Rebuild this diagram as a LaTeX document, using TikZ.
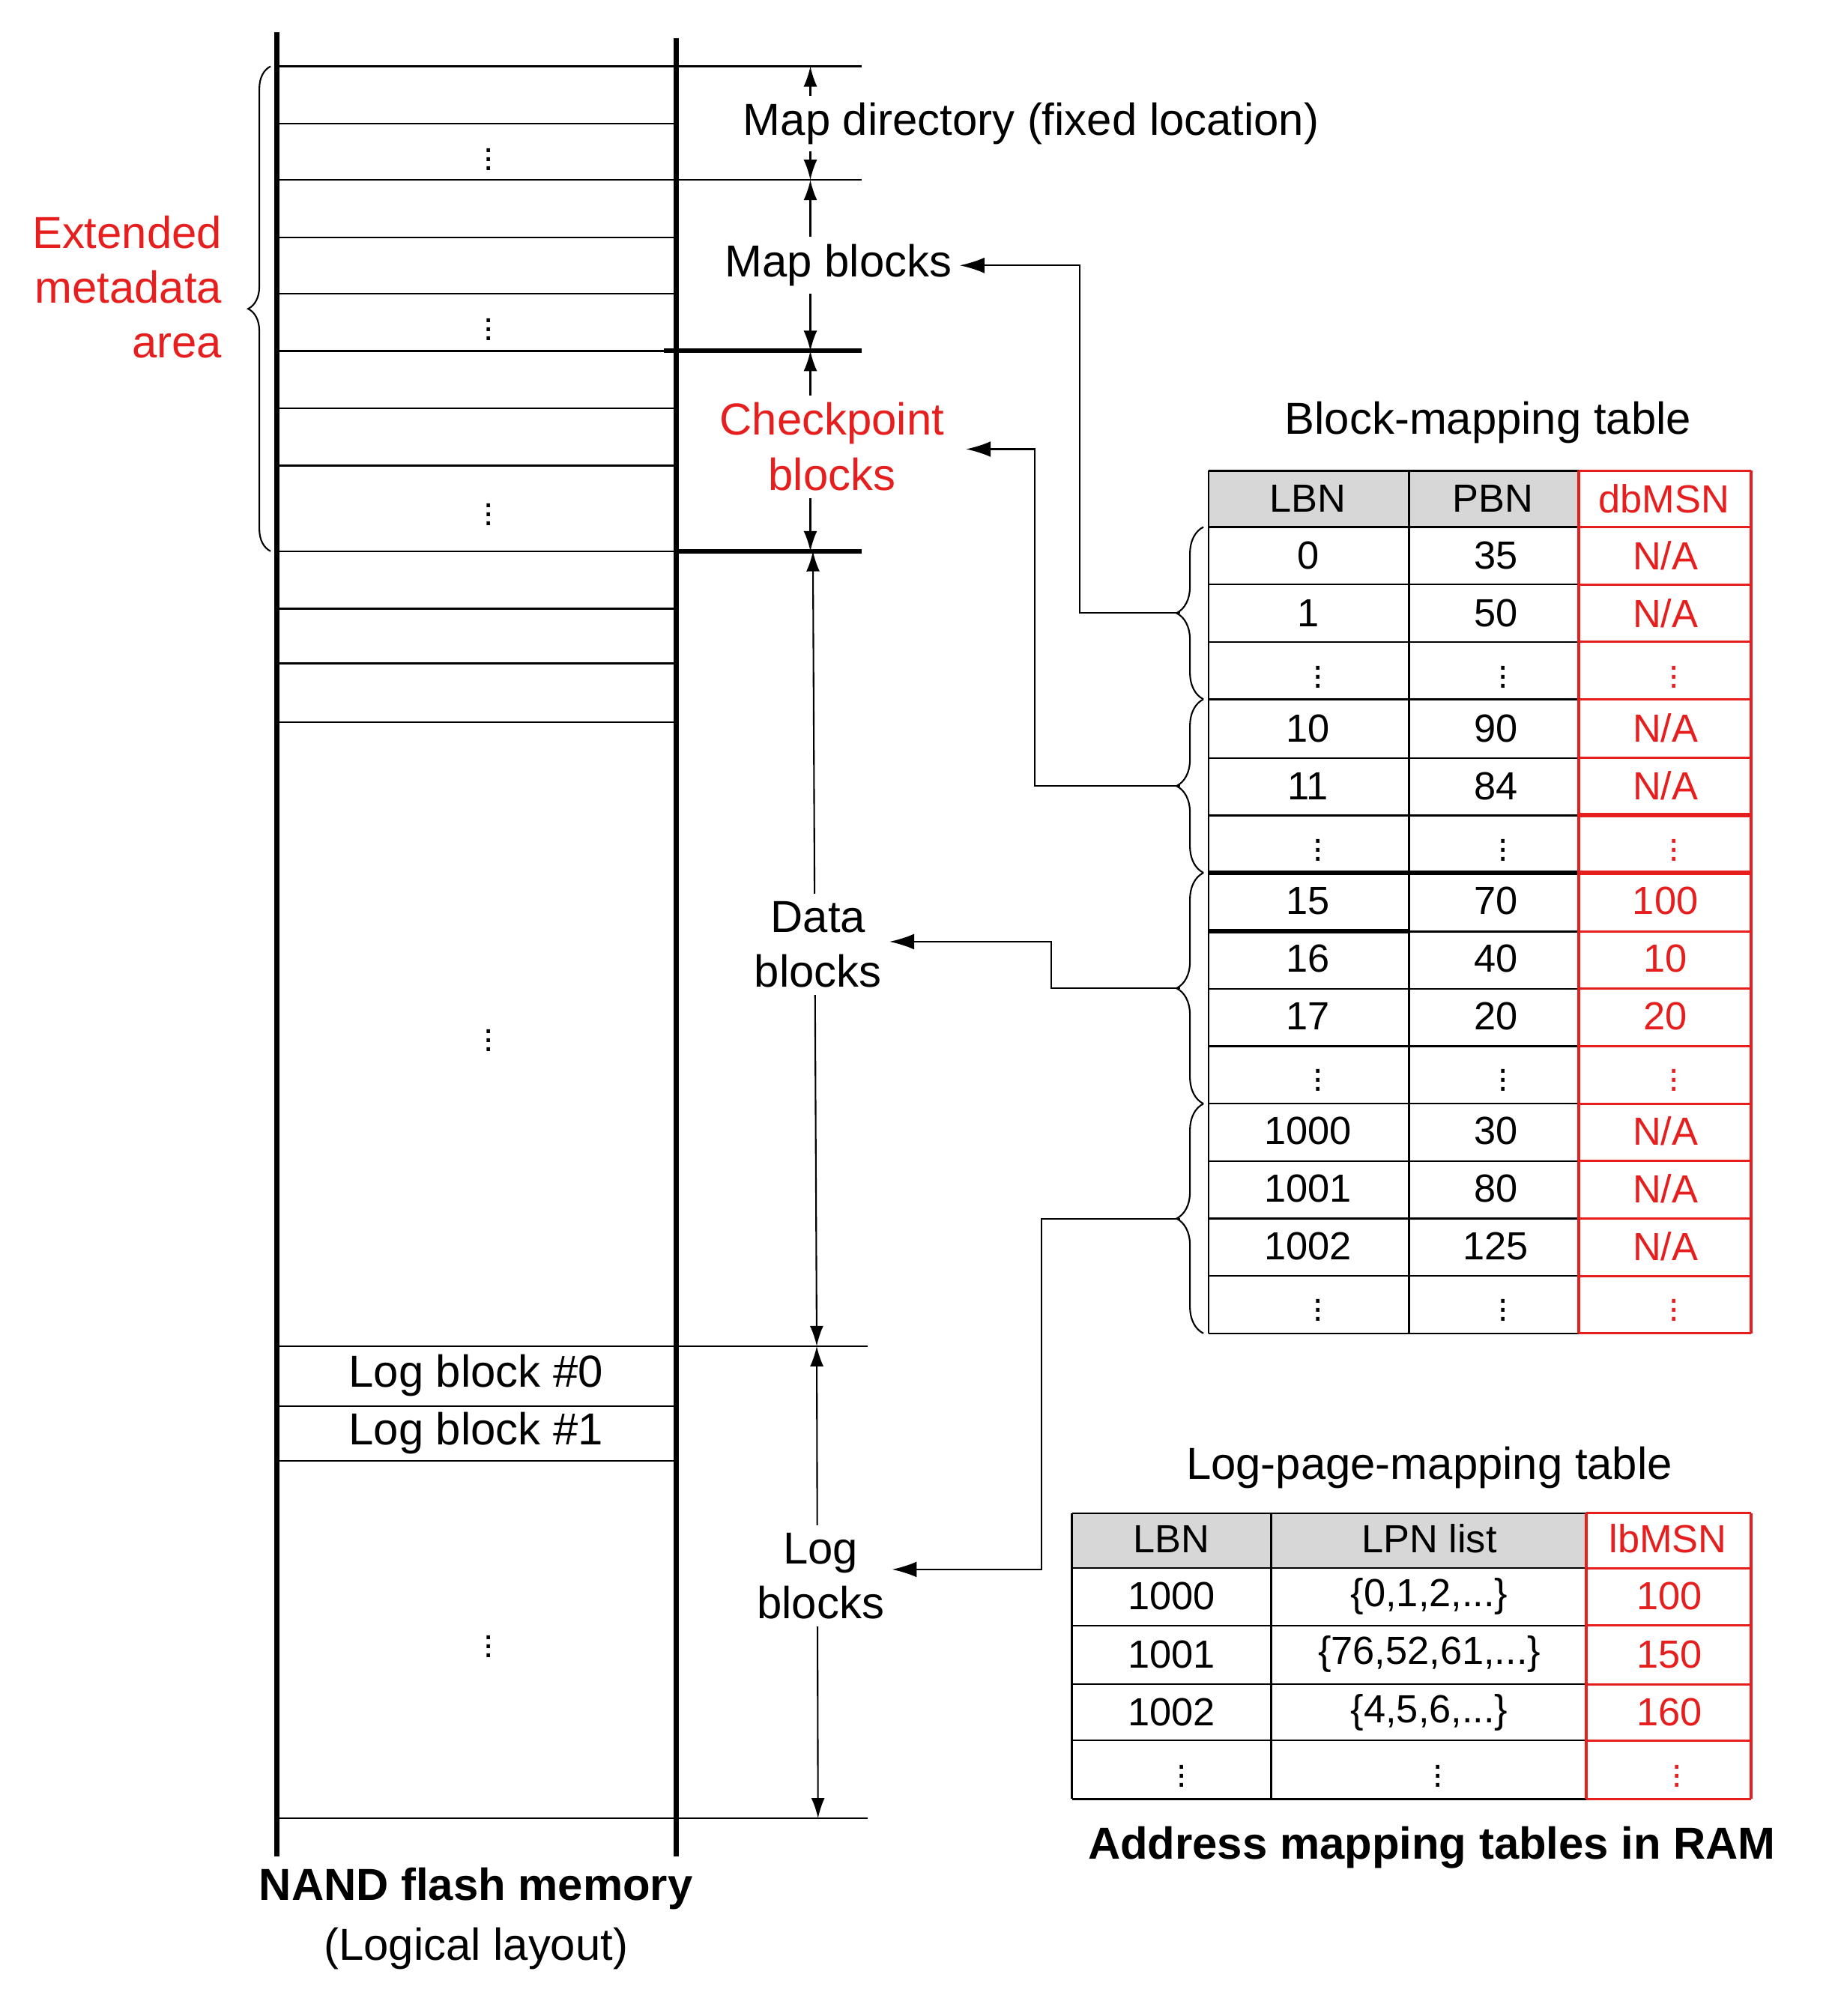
\documentclass[tikz,border=0pt]{standalone}
\usepackage{fontspec}
\setmainfont{Liberation Sans}
\usetikzlibrary{arrows.meta,decorations.pathreplacing}
\definecolor{myred}{RGB}{230,30,30}
\definecolor{hdr}{RGB}{215,215,215}
\begin{document}
\begin{tikzpicture}[x=0.02cm,y=-0.02cm,
  lbl/.style={font=\fontsize{20}{24.5}\selectfont,align=center},
  tbl/.style={font=\fontsize{17.5}{20}\selectfont},
  vd/.style={font=\fontsize{16}{18}\selectfont,inner sep=0pt},
  dbl/.style={{Latex[length=9pt,width=6pt]}-{Latex[length=9pt,width=6pt]},line width=0.7pt},
  ptr/.style={-{Latex[length=11pt,width=7pt]},line width=0.7pt},
  br/.style={decorate,decoration={brace,amplitude=12pt},line width=0.7pt}]
\useasboundingbox (0,0) rectangle (1440,1580);
% memory
\draw[line width=2.4pt] (217,25) -- (217,1455);
\draw[line width=2.4pt] (530,30) -- (530,1455);
\foreach \y in {97,186,230,320,365,477,520,566,1102,1145} \draw[line width=0.8pt] (217,\y) -- (530,\y);
\foreach \y in {52,141} \draw[line width=0.8pt] (217,\y) -- (675,\y);
\draw[line width=0.8pt] (217,275) -- (520,275);
\draw[line width=2pt] (520,275) -- (675,275);
\draw[line width=0.8pt] (217,432) -- (530,432);
\draw[line width=2pt] (530,432) -- (675,432);
\foreach \y in {1055,1425} \draw[line width=0.8pt] (217,\y) -- (680,\y);
\foreach \y/\n in {120/a,253/b,398/c,810/d,1285/e} \node[vd] (md\n) at (383,\y) {$\vdots$};
\node[lbl] (lb0) at (373,1078) {Log block \#0};
\node[lbl] (lb1) at (373,1123) {Log block \#1};
% right arrows
\draw[dbl] (635,52) -- (635,141);
\draw[dbl] (635,141) -- (635,275);
\draw[dbl] (635,275) -- (635,432);
\draw[dbl] (637,432) -- (640,1055);
\draw[dbl] (640,1055) -- (641,1425);
\node[lbl,fill=white,inner sep=3pt] (mapdir) at (808,97) {Map directory (fixed location)};
\node[lbl,fill=white] (mapb) at (657,208) {Map blocks};
\node[lbl,fill=white,text=myred] (ckpt) at (652,350) {Checkpoint\\blocks};
\node[lbl,fill=white] (datab) at (641,740) {Data\\blocks};
\node[lbl,fill=white] (logb) at (643,1235) {Log\\blocks};
% extended metadata
\draw[br,decoration={amplitude=10pt}] (212,432) -- (212,52);
\node[lbl,text=myred,align=right,anchor=east] (ext) at (180,225) {Extended\\metadata\\area};
% block mapping table
\node[lbl] (bmt) at (1166,331) {Block-mapping table};
\fill[hdr] (947,369) rectangle (1237,413);
\foreach \y in {413,458,503,548,594,639,684,730,775,820,865,910,955,1000,1045} \draw[line width=0.8pt] (947,\y) -- (1237,\y);
\draw[line width=0.8pt] (947,369) -- (1237,369);
\foreach \x in {947,1104} \draw[line width=0.8pt] (\x,369) -- (\x,1045);
\draw[line width=2pt] (947,684) -- (1237,684);
\draw[line width=2pt] (947,730) -- (1104,730);
\foreach \y in {369,413,458,503,548,594,684,730,775,820,865,910,955,1000,1045} \draw[myred,line width=1pt] (1237,\y) -- (1372,\y);
\draw[myred,line width=2pt] (1237,639) -- (1372,639);
\draw[myred,line width=2pt] (1237,684) -- (1372,684);
\draw[myred,line width=1.4pt] (1237,369) -- (1237,1045);
\draw[myred,line width=1.4pt] (1372,369) -- (1372,1045);
\node[tbl] (h1) at (1025,391) {LBN};
\node[tbl] (h2) at (1170,391) {PBN};
\node[tbl,text=myred] (h3) at (1304,391) {dbMSN};
\foreach \i/\a/\b/\c in {0/0/35/N\slash A,1/1/50/N\slash A,3/10/90/N\slash A,4/11/84/N\slash A,6/15/70/100,7/16/40/10,8/17/20/20,10/1000/30/N\slash A,11/1001/80/N\slash A,12/1002/125/N\slash A}{
  \node[tbl] (ba\i) at (1025,{435.5+45.1*\i}) {\a};
  \node[tbl] (bb\i) at (1172,{435.5+45.1*\i}) {\b};
  \node[tbl,text=myred] (bc\i) at (1305,{435.5+45.1*\i}) {\c};}
\foreach \i in {2,5,9,13}{
  \node[vd] (bd\i) at (1033,{435.5+45.1*\i}) {$\vdots$};
  \node[vd] (be\i) at (1178,{435.5+45.1*\i}) {$\vdots$};
  \node[vd,text=myred] (bf\i) at (1312,{435.5+45.1*\i}) {$\vdots$};}
% braces of table
\draw[br] (943,548) -- (943,413);
\draw[br] (943,684) -- (943,548);
\draw[br] (943,865) -- (943,684);
\draw[br] (943,1045) -- (943,865);
\coordinate (g1) at (925,480.5);
\coordinate (g2) at (925,616);
\coordinate (g3) at (925,774.5);
\coordinate (g4) at (925,955);
\draw[ptr] (g1) -- (846,480.5) -- (846,208) -- (mapb.east);
\draw[ptr] (g2) -- (811,616) -- (811,352) -- (757,352);
\draw[ptr] (g3) -- (824,774.5) -- (824,738) -- (datab.east |- 0,738);
\draw[ptr] (g4) -- (816,955) -- (816,1230) -- (logb.east |- 0,1230);
% log page table
\node[lbl] (lpt) at (1120,1150) {Log-page-mapping table};
\fill[hdr] (840,1186) rectangle (1243,1229);
\foreach \y in {1186,1229,1274,1320,1364,1410} \draw[line width=0.8pt] (840,\y) -- (1243,\y);
\foreach \x in {840,996} \draw[line width=0.8pt] (\x,1186) -- (\x,1410);
\foreach \y in {1186,1229,1274,1320,1364,1410} \draw[myred,line width=1pt] (1243,\y) -- (1372,\y);
\draw[myred,line width=1.4pt] (1243,1186) -- (1243,1410);
\draw[myred,line width=1.4pt] (1372,1186) -- (1372,1410);
\node[tbl] (l1) at (918,1206) {LBN};
\node[tbl] (l2) at (1120,1206) {LPN list};
\node[tbl,text=myred] (l3) at (1307,1206) {lbMSN};
\foreach \i/\a/\b/\c in {0/1000/{\{0,1,2,...\}}/100,1/1001/{\{76,52,61,...\}}/150,2/1002/{\{4,5,6,...\}}/160}{
  \node[tbl] (la\i) at (918,{1251+45.5*\i}) {\a};
  \node[tbl] (lb\i) at (1120,{1251+45.5*\i}) {\b};
  \node[tbl,text=myred] (lc\i) at (1308,{1251+45.5*\i}) {\c};}
\node[vd] (ld) at (926,1387) {$\vdots$};
\node[vd] (le) at (1127,1387) {$\vdots$};
\node[vd,text=myred] (lf) at (1314,1387) {$\vdots$};
% captions
\node[lbl,font=\fontsize{20}{24}\selectfont\bfseries] (cap1) at (1122,1448) {Address mapping tables in RAM};
\node[lbl,font=\fontsize{20}{24}\selectfont\bfseries] (cap2) at (373,1480) {NAND flash memory};
\node[lbl] (cap3) at (373,1527) {(Logical layout)};
\end{tikzpicture}
\end{document}
